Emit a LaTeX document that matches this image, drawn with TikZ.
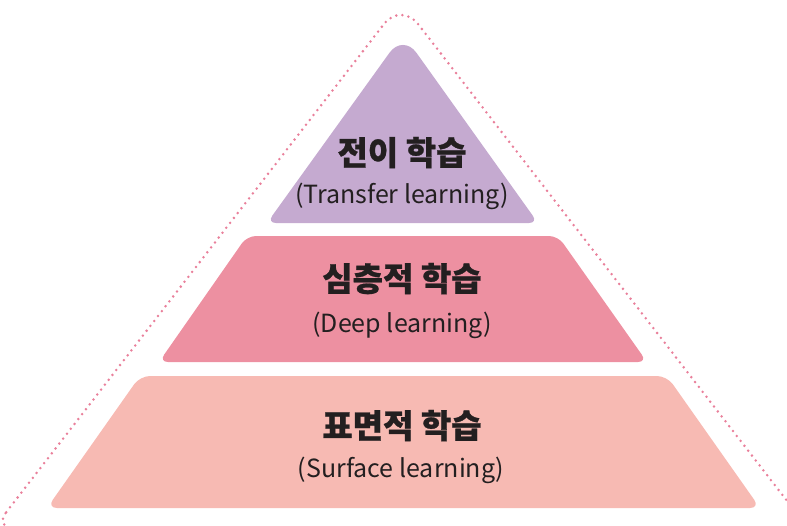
\documentclass[tikz,border=0pt]{standalone}
\usepackage{fontspec}
\setmainfont{Noto Sans CJK KR}[BoldFeatures={FakeBold=0.8}]
\definecolor{lav}{RGB}{197, 170, 208}
\definecolor{rose}{RGB}{237, 144, 161}
\definecolor{peach}{RGB}{247, 186, 179}
\definecolor{dotpink}{RGB}{233, 128, 155}
\definecolor{ink}{RGB}{35, 31, 32}

\begin{document}
\begin{tikzpicture}[x=1pt,y=-1pt,
  title/.style={anchor=base,text=ink,font=\fontsize{33}{33}\selectfont\bfseries},
  sub/.style={anchor=base,text=ink,font=\fontsize{25}{25}\selectfont}]
\useasboundingbox (0,0) rectangle (787,525);
\clip (0,0) rectangle (787,525);

% dotted outline
\draw[dotpink,line width=2.8pt,line cap=round,dash pattern=on 0pt off 6.2pt]
  (-6,528) [rounded corners=28pt] -- (401,2) [rounded corners=20pt] -- (808,528) -- cycle;

% layers
\fill[lav] (267,223) [rounded corners=23pt] -- (403,34) [rounded corners=9pt] -- (538,223) -- cycle;
\fill[rose,rounded corners=9pt] (247,236) -- (558,236) -- (647,362) -- (159,362) -- cycle;
\fill[peach,rounded corners=10pt] (140,376) -- (667,376) -- (760,508) -- (47,508) -- cycle;

\node[title] (T1) at (402,165) {전이 학습};
\node[sub] (T2) at (402,203) {(Transfer learning)};
\node[title] (D1) at (402,291) {심층적 학습};
\node[sub] (D2) at (402,332) {(Deep learning)};
\node[title] (S1) at (402,438) {표면적 학습};
\node[sub] (S2) at (401,477) {(Surface learning)};
\end{tikzpicture}
\end{document}
